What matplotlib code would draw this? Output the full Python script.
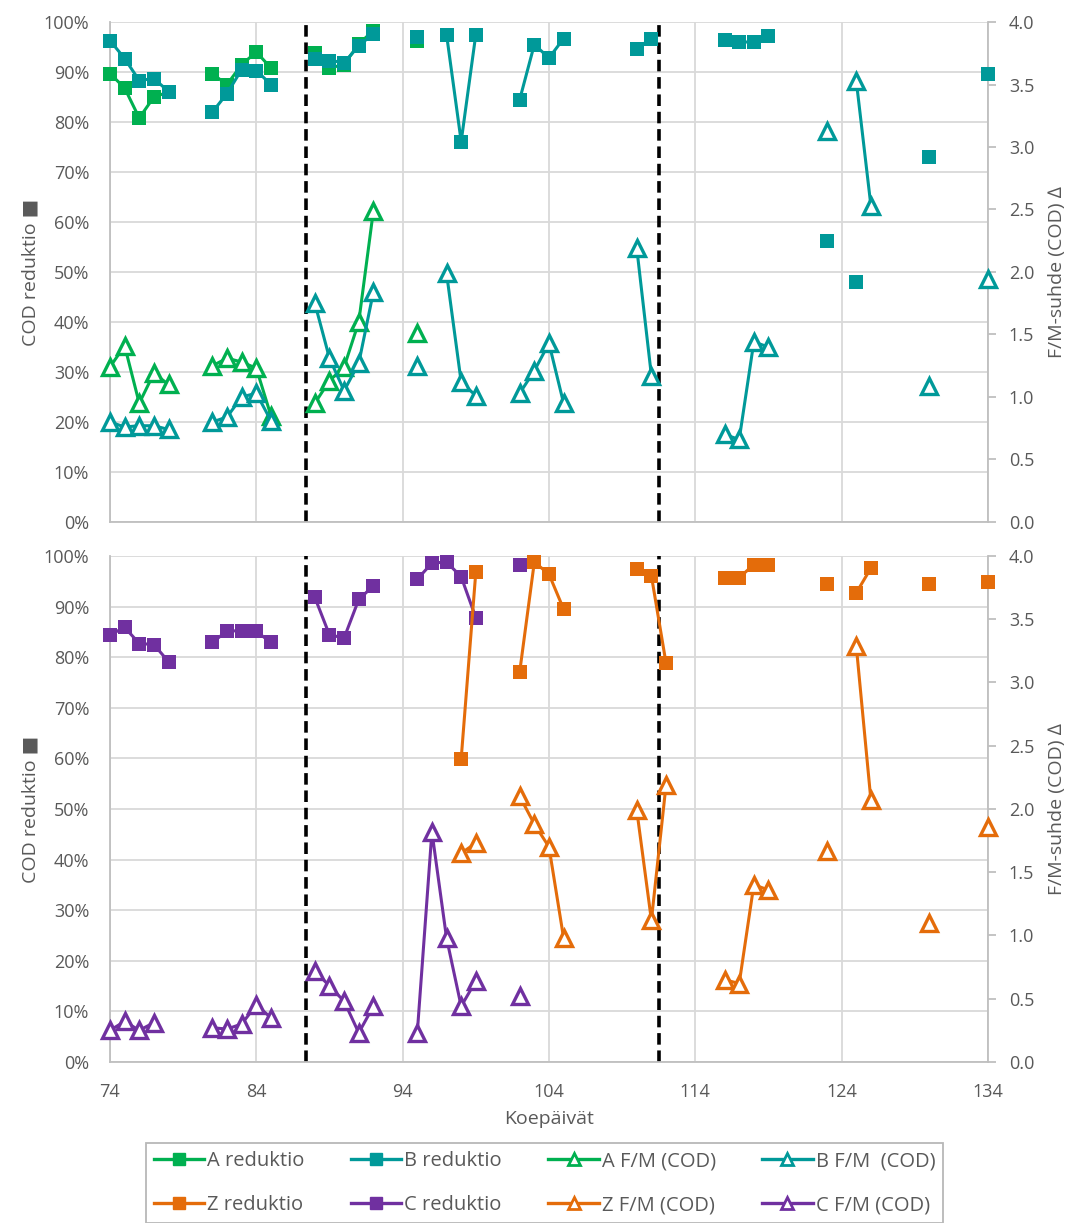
import numpy as np
import matplotlib
matplotlib.use('Agg')
import matplotlib.pyplot as plt
from matplotlib.lines import Line2D
from matplotlib.ticker import PercentFormatter, MultipleLocator, FormatStrFormatter

plt.rcParams['font.family'] = ['Open Sans', 'DejaVu Sans']

nan = np.nan

# --- yläpaneeli: A ja B ---
a_red_days = [74, 75, 76, 77, 78, 79, 81, 82, 83, 84, 85, 86, 88, 89, 90, 91, 92, 93, 95]
a_red = [89.7, 86.8, 80.8, 85.0, 86.0, nan, 89.6, 87.5, 91.5, 94.0, 90.8, nan,
         93.8, 90.8, 91.5, 95.6, 98.3, nan, 96.2]
a_fm_days = a_red_days
a_fm = [1.24, 1.41, 0.95, 1.19, 1.10, nan, 1.25, 1.31, 1.28, 1.23, 0.85, nan,
        0.95, 1.13, 1.24, 1.60, 2.49, nan, 1.51]

b_red_days = [74, 75, 76, 77, 78, 79, 81, 82, 83, 84, 85, 86, 88, 89, 90, 91, 92, 93,
              95, 96, 97, 98, 99, 100, 102, 103, 104, 105, 106, 110, 111, 112,
              116, 117, 118, 119, 120, 123, 124, 125, 126, 130, 131, 134]
b_red = [96.3, 92.7, 88.3, 88.7, 86.1, nan, 82.0, 85.7, 90.5, 90.3, 87.5, nan,
         92.7, 92.3, 91.9, 95.2, 97.7, nan,
         97.0, nan, 97.5, 76.1, 97.5, nan, 84.5, 95.5, 92.8, 96.7, nan, 94.7, 96.7, nan,
         96.5, 96.0, 96.0, 97.3, nan, 56.1, nan, 47.9, nan, 73.1, nan, 89.7]
b_fm_days = [74, 75, 76, 77, 78, 79, 81, 82, 83, 84, 85, 86, 88, 89, 90, 91, 92, 93,
             95, 96, 97, 98, 99, 100, 102, 103, 104, 105, 106, 110, 111, 112,
             116, 117, 118, 119, 120, 123, 124, 125, 126, 127, 130, 131, 134]
b_fm = [0.80, 0.76, 0.77, 0.77, 0.74, nan, 0.80, 0.84, 1.00, 1.03, 0.81, nan,
        1.75, 1.31, 1.05, 1.27, 1.84, nan,
        1.25, nan, 1.99, 1.12, 1.01, nan, 1.03, 1.21, 1.43, 0.95, nan, 2.19, 1.17, nan,
        0.70, 0.66, 1.44, 1.40, nan, 3.13, nan, 3.53, 2.53, nan, 1.09, nan, 1.94]

# --- alapaneeli: Z ja C ---
c_red_days = [74, 75, 76, 77, 78, 79, 81, 82, 83, 84, 85, 86, 88, 89, 90, 91, 92, 93,
              95, 96, 97, 98, 99, 100, 102]
c_red = [84.4, 85.9, 82.7, 82.5, 79.1, nan, 82.9, 85.2, 85.2, 85.1, 82.9, nan,
         91.8, 84.4, 83.8, 91.4, 94.1, nan, 95.4, 98.6, 98.8, 95.9, 87.8, nan, 98.2]
c_fm_days = [74, 75, 76, 77, 78, 81, 82, 83, 84, 85, 86, 88, 89, 90, 91, 92, 93,
             95, 96, 97, 98, 99, 100, 102]
c_fm = [0.25, 0.32, 0.25, 0.31, nan, 0.27, 0.26, 0.30, 0.45, 0.35, nan,
        0.72, 0.60, 0.48, 0.23, 0.44, nan, 0.23, 1.82, 0.98, 0.44, 0.64, nan, 0.52]

z_red_days = [98, 99, 100, 102, 103, 104, 105, 106, 110, 111, 112, 113,
              116, 117, 118, 119, 120, 123, 124, 125, 126, 127, 130, 131, 134]
z_red = [59.9, 96.8, nan, 77.1, 98.8, 96.4, 89.5, nan, 97.5, 96.1, 78.8, nan,
         95.7, 95.7, 98.3, 98.3, nan, 94.4, nan, 92.7, 97.6, nan, 94.4, nan, 94.9]
z_fm_days = z_red_days
z_fm = [1.65, 1.73, nan, 2.10, 1.88, 1.70, 0.98, nan, 1.99, 1.12, 2.19, nan,
        0.65, 0.62, 1.40, 1.36, nan, 1.67, nan, 3.29, 2.07, nan, 1.10, nan, 1.86]

phase_breaks = [87.4, 111.5]

green = '#00B050'
teal = '#009999'
orange = '#E46C0A'
purple = '#7030A0'
gray = '#595959'


def style_panel(ax, show_x):
    ax.set_xlim(74, 134)
    ax.set_ylim(0, 100)
    ax.set_xticks(range(74, 135, 10))
    ax.set_yticks(range(0, 101, 10))
    ax.yaxis.set_major_formatter(PercentFormatter(decimals=0))
    ax.grid(True, color='#d9d9d9', lw=1.3)
    ax.set_axisbelow(True)
    ax.spines['top'].set_visible(False)
    for s in ['left', 'right', 'bottom']:
        ax.spines[s].set_color('#bfbfbf')
        ax.spines[s].set_linewidth(1.3)
    ax.tick_params(length=0, colors=gray, labelsize=13)
    ax.tick_params(axis='y', pad=15)
    ax.tick_params(axis='x', pad=15)
    if not show_x:
        ax.tick_params(labelbottom=False)
    ax.set_ylabel('COD reduktio ■', color=gray, fontsize=14, labelpad=3)
    for x in phase_breaks:
        ax.axvline(x, color='black', lw=2.6, ls=(0, (3.2, 1.6)), zorder=2)

    axr = ax.twinx()
    axr.set_ylim(0, 4)
    axr.yaxis.set_major_locator(MultipleLocator(0.5))
    axr.yaxis.set_major_formatter(FormatStrFormatter('%.1f'))
    axr.tick_params(colors=gray, labelsize=13, length=6, width=1.3, pad=9)
    axr.tick_params(axis='y', color='#bfbfbf')
    for s in axr.spines.values():
        s.set_visible(False)
    axr.set_ylabel('F/M-suhde (COD) ∆', color=gray, fontsize=14, labelpad=10)
    return axr


def draw(ax, days, vals, color, hollow):
    if hollow:
        ax.plot(days, vals, color=color, lw=2.2, marker='^', ms=11, mfc='white',
                mec=color, mew=2.4, clip_on=False, zorder=3)
    else:
        ax.plot(days, vals, color=color, lw=2.2, marker='s', ms=10, mfc=color,
                mec=color, mew=0, clip_on=False, zorder=3)


fig = plt.figure(figsize=(10.72, 12.23), dpi=100)
ax1 = fig.add_axes([0.1026, 0.5732, 0.819, 0.4088])
ax2 = fig.add_axes([0.1026, 0.1317, 0.819, 0.4137])

ax1r = style_panel(ax1, False)
ax2r = style_panel(ax2, True)

draw(ax1, a_red_days, a_red, green, False)
draw(ax1, b_red_days, b_red, teal, False)
draw(ax1r, a_fm_days, a_fm, green, True)
draw(ax1r, b_fm_days, b_fm, teal, True)

draw(ax2, c_red_days, c_red, purple, False)
draw(ax2, z_red_days, z_red, orange, False)
draw(ax2r, c_fm_days, c_fm, purple, True)
draw(ax2r, z_fm_days, z_fm, orange, True)

ax2.set_xlabel('Koepäivät', color=gray, fontsize=14, labelpad=7)


def handle(color, hollow):
    if hollow:
        return Line2D([], [], color=color, lw=2.4, marker='^', ms=9, mfc='white', mec=color, mew=2)
    return Line2D([], [], color=color, lw=2.4, marker='s', ms=8, mfc=color, mec=color)


# järjestys sarakkeittain, jotta rivit menevät kuten alkuperäisessä
handles = [handle(green, False), handle(orange, False),
           handle(teal, False), handle(purple, False),
           handle(green, True), handle(orange, True),
           handle(teal, True), handle(purple, True)]
labels = ['A reduktio', 'Z reduktio', 'B reduktio', 'C reduktio',
          'A F/M (COD)', 'Z F/M (COD)', 'B F/M  (COD)', 'C F/M (COD)']
leg = fig.legend(handles, labels, ncol=4, loc='upper center',
                 bbox_to_anchor=(0.508, 1 - 1143 / 1223), fontsize=14.5,
                 frameon=True, fancybox=False, edgecolor='#a6a6a6',
                 handlelength=2.5, handletextpad=0.15, columnspacing=2.3,
                 labelspacing=1.2, borderpad=0.4, borderaxespad=0, labelcolor=gray)
leg.get_frame().set_linewidth(1.3)

fig.savefig('out.png', dpi=100)
